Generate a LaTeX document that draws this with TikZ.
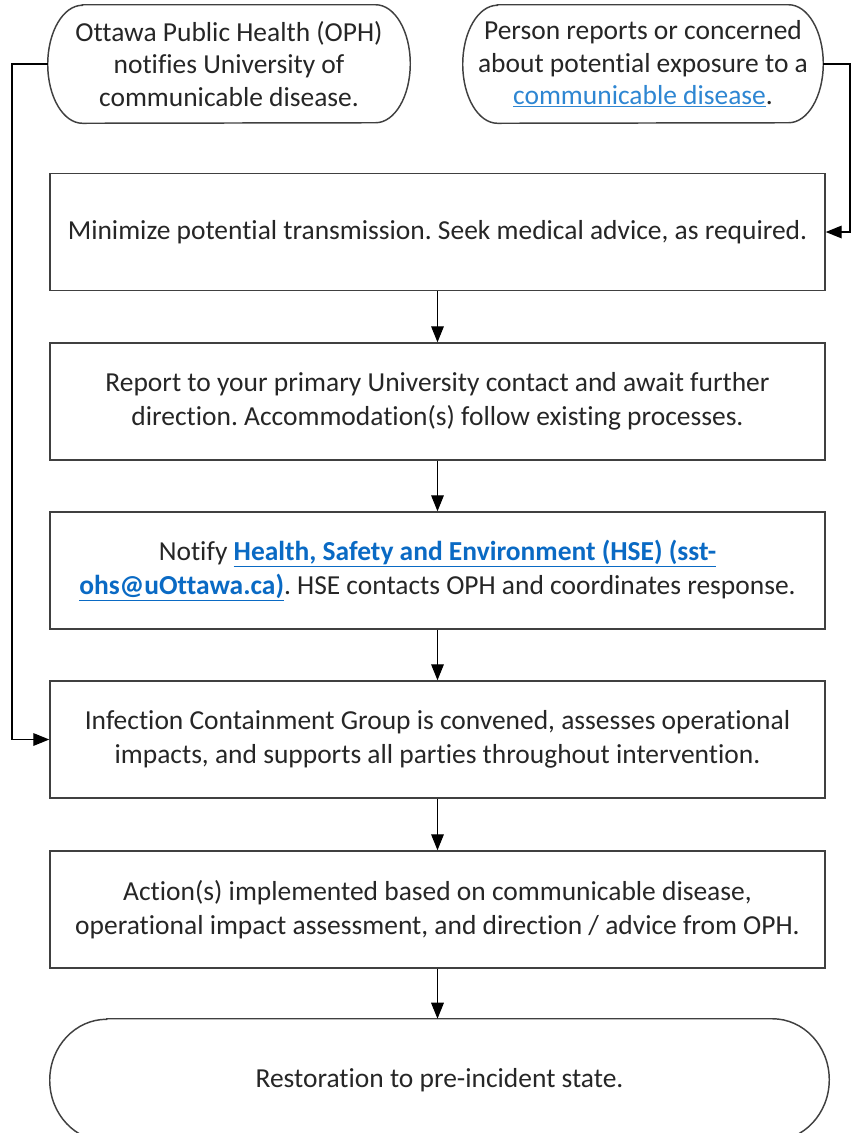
\documentclass[tikz,border=0pt]{standalone}
\usepackage{fontspec}
\setmainfont{Carlito}[Ligatures=NoCommon]
\usetikzlibrary{arrows.meta}

\definecolor{edge}{RGB}{64,64,64}
\definecolor{ink}{RGB}{38,38,38}
\definecolor{linkA}{RGB}{46,134,210}
\definecolor{linkB}{RGB}{10,106,196}

\tikzset{
  flowbox/.style={draw=edge, line width=1.1pt, text=ink, align=center,
    minimum width=581.25pt, minimum height=87.75pt, inner sep=0pt,
    font=\fontsize{20.6}{25.5}\selectfont},
  termtext/.style={text=ink, align=center, inner sep=0pt,
    font=\fontsize{20.6}{24.4}\selectfont},
  flow/.style={draw=black, line width=0.9pt, -{Triangle[length=12pt,width=9.5pt]}}
}

% stadium outline with elliptic ends, drawn round a named node (y axis is flipped)
\newcommand{\termoutline}[3]{%
  \draw[edge, line width=1.1pt] ([xshift=#2]#1.north west) -- ([xshift=-#2]#1.north east)
    arc[start angle=-90, end angle=90, x radius=#2, y radius=#3]
    -- ([xshift=#2]#1.south west)
    arc[start angle=90, end angle=270, x radius=#2, y radius=#3] -- cycle;}

\begin{document}
\frenchspacing
\begin{tikzpicture}[x=0.75pt,y=0.75pt,yscale=-1,xscale=1]
	\useasboundingbox (0,0) rectangle (852,1133);
	% start points
	\node[termtext, minimum width=271.5pt, minimum height=88.5pt] (oph) at (229,64) {Ottawa Public Health (OPH)\\notifies University of\\communicable disease.};
	\termoutline{oph}{26pt}{44.25pt}
	\node[termtext, minimum width=270pt, minimum height=88.5pt] (person) at (643,64) {Person reports or concerned\\about potential exposure to a\\\textcolor{linkA}{\underline{communicable disease}}.};
	\termoutline{person}{26pt}{44.25pt}
	% steps
	\node[flowbox] (minimize) at (437.5,232) {Minimize potential transmission. Seek medical advice, as required.};
	\node[flowbox] (report) at (437.5,401.5) {Report to your primary University contact and await further\\direction. Accommodation(s) follow existing processes.};
	\node[flowbox] (notify) at (437.5,570.5) {Notify \textcolor{linkB}{\bfseries\underline{Health, Safety and Environment (HSE) (sst-}}\\\textcolor{linkB}{\bfseries\underline{ohs@uOttawa.ca)}}. HSE contacts OPH and coordinates response.};
	\node[flowbox] (contain) at (437.5,739.5) {Infection Containment Group is convened, assesses operational\\impacts, and supports all parties throughout intervention.};
	\node[flowbox] (action) at (437.5,909.5) {Action(s) implemented based on communicable disease,\\operational impact assessment, and direction / advice from OPH.};
	% end point
	\node[termtext, minimum width=584.25pt, minimum height=91.5pt] (restore) at (439.5,1080) {Restoration to pre-incident state.};
	\termoutline{restore}{42.75pt}{45.75pt}
	% connectors
	\coordinate (lbend) at (12,64);
	\coordinate (rbend) at (850,64);
	\draw[flow] (oph.west) -- (lbend) |- (contain.west);
	\draw[flow] (person.east) -- (rbend) |- (minimize.east);
	\draw[flow] (minimize.south) -- (report.north);
	\draw[flow] (report.south) -- (notify.north);
	\draw[flow] (notify.south) -- (contain.north);
	\draw[flow] (contain.south) -- (action.north);
	\draw[flow] (action.south) -- (action.south |- restore.north);
\end{tikzpicture}
\end{document}
